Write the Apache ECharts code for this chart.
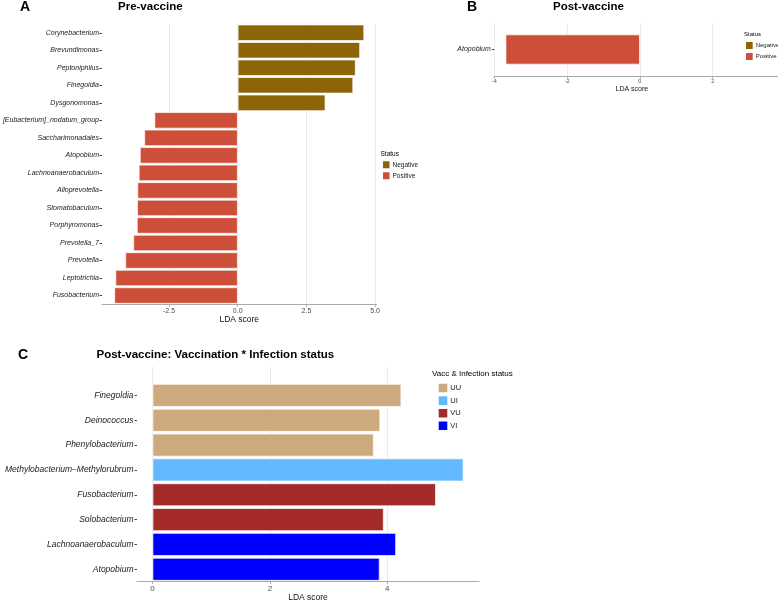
<!DOCTYPE html>
<html><head><meta charset="utf-8">
<script src="https://cdn.jsdelivr.net/npm/echarts@6/dist/echarts.min.js"></script>
<style>html,body{margin:0;padding:0;background:#fff}#c{width:778px;height:601px}</style>
</head><body><div id="c"></div>
<script>
const FONT = "'Liberation Sans', Arial, Helvetica, sans-serif";

// ---- Panel A: Pre-vaccine ----
const genusA = ['Corynebacterium','Brevundimonas','Peptoniphilus','Finegoldia','Dysgonomonas',
  '[Eubacterium]_nodatum_group','Saccharimonadales','Atopobium','Lachnoanaerobaculum','Alloprevotella',
  'Stomatobaculum','Porphyromonas','Prevotella_7','Prevotella','Leptotrichia','Fusobacterium'];
const ldaA = [4.60, 4.45, 4.29, 4.20, 3.19, -3.03, -3.40, -3.56, -3.60, -3.65, -3.66, -3.67, -3.80, -4.09, -4.45, -4.49];
const statusA = ['Negative','Negative','Negative','Negative','Negative',
  'Positive','Positive','Positive','Positive','Positive','Positive','Positive','Positive','Positive','Positive','Positive'];
const ticksA = [-2.5, 0, 2.5, 5.0];

// ---- Panel B: Post-vaccine ----
const genusB = ['Atopobium'];
const ldaB = [-3.69];
const statusB = ['Positive'];
const ticksB = [-4, -2, 0, 2, 4];

// ---- Panel C: Post-vaccine: Vaccination * Infection status ----
const genusC = ['Finegoldia','Deinococcus','Phenylobacterium','Methylobacterium–Methylorubrum',
  'Fusobacterium','Solobacterium','Lachnoanaerobaculum','Atopobium'];
const ldaC = [4.24, 3.88, 3.77, 5.30, 4.83, 3.94, 4.15, 3.87];
const groupC = ['UU','UU','UU','UI','VU','VU','VI','VI'];
const ticksC = [0, 2, 4];

const statusLevels = ['Negative','Positive'];
const statusColors = ['#8B6508','#CD4F39'];
const groupLevels = ['UU','UI','VU','VI'];
const groupColors = ['#CDAA7D','#63B8FF','#A52A2A','#0000FF'];

function splitBy(values, groups, level) {
  return values.map((v, i) => groups[i] === level ? v : '-');
}

function xAxisCfg(gridIndex, min, max, ticks, fmt, labelSize, labelMargin, nameSize, nameGap, namePad) {
  return {
    type: 'value', gridIndex, min, max,
    axisLine: { show: true, onZero: false, lineStyle: { color: '#ababab', width: 1.1 } },
    axisTick: { show: true, length: 2.5, customValues: ticks, lineStyle: { color: '#ababab' } },
    axisLabel: { customValues: ticks, formatter: fmt, fontSize: labelSize, color: '#4d4d4d', margin: labelMargin, fontFamily: FONT },
    splitLine: { show: true, lineStyle: { color: '#ebebeb', width: 1 } },
    name: 'LDA score', nameLocation: 'middle', nameGap,
    nameTextStyle: { fontSize: nameSize, color: '#111', fontFamily: FONT, padding: namePad || 0 }
  };
}
function yAxisCfg(gridIndex, cats, size, margin) {
  return {
    type: 'category', gridIndex, data: cats, inverse: true,
    axisLine: { show: false, onZero: false },
    axisTick: { show: true, length: 2.5, alignWithLabel: true, lineStyle: { color: '#444' } },
    axisLabel: { fontSize: size, fontStyle: 'italic', color: '#1a1a1a', margin, fontFamily: FONT },
    splitLine: { show: false }
  };
}
function barSeries(names, colors, values, groups, axisIdx, stack, extra) {
  return names.map((n, k) => Object.assign({
    type: 'bar', name: n, xAxisIndex: axisIdx, yAxisIndex: axisIdx, stack,
    data: splitBy(values, groups, n),
    itemStyle: { color: colors[k], borderColor: '#ffffff', borderWidth: 0.7 },
    emphasis: { disabled: true }, animation: false
  }, extra));
}
function titleCfg(text, left, top, size, weight) {
  return { text, left, top, padding: 0,
    textStyle: { fontSize: size, fontWeight: weight, color: '#000', fontFamily: FONT } };
}
function legendCfg(data, left, top, w, h, size) {
  return { data, left, top, orient: 'vertical', icon: 'rect', itemWidth: w, itemHeight: h, itemGap: 0,
    padding: 0, selectedMode: false,
    textStyle: { fontSize: size, color: '#1a1a1a', fontFamily: FONT, padding: [0, 0, 0, -3] } };
}
function gridCfg(o) { return Object.assign({ outerBoundsMode: 'none', containLabel: false }, o); }

const chart = echarts.init(document.getElementById('c'), null, { renderer: 'canvas' });
chart.setOption({
  backgroundColor: '#ffffff',
  animation: false,
  textStyle: { fontFamily: FONT },
  title: [
    titleCfg('A', 20, 0, 14, 'bold'),
    titleCfg('Pre-vaccine', 118, 0.5, 11.5, 'bold'),
    titleCfg('B', 467, 0, 14, 'bold'),
    titleCfg('Post-vaccine', 553, 0.5, 11.5, 'bold'),
    titleCfg('C', 18, 348.5, 14, 'bold'),
    titleCfg('Post-vaccine: Vaccination * Infection status', 96.5, 349, 11.5, 'bold'),
    titleCfg('Status', 380.5, 150.5, 6.5, 'normal'),
    titleCfg('Status', 744, 31, 6, 'normal'),
    titleCfg('Vacc & Infection status', 432, 370, 8, 'normal')
  ],
  legend: [
    legendCfg(statusLevels, 381, 159.3, 8.5, 9, 6.5),
    legendCfg(statusLevels, 744, 40, 8.7, 9, 6),
    legendCfg(groupLevels, 436.7, 381.7, 10.6, 10.6, 7.5)
  ],
  grid: [
    gridCfg({ left: 102, right: 778 - 376.5, top: 24, bottom: 601 - 304.3 }),
    gridCfg({ left: 494.3, right: 778 - 785.5, top: 23, bottom: 601 - 76 }),
    gridCfg({ left: 137, right: 778 - 479, top: 383, bottom: 601 - 581.7 }),
    gridCfg({ left: 137, right: 778 - 479, top: 366.7, height: 16.3 })
  ],
  xAxis: [
    xAxisCfg(0, -4.94, 5.05, ticksA, v => v.toFixed(1), 7, 3, 8.5, 10.5),
    xAxisCfg(1, -4, 4, ticksB, v => String(v), 5.5, 2.5, 7, 8.5, [0, 16, 0, 0]),
    xAxisCfg(2, -0.265, 5.565, ticksC, v => String(v), 8, 3, 8.5, 11),
    Object.assign(xAxisCfg(3, -0.265, 5.565, ticksC, v => String(v), 8, 3, 8.5, 11),
      { axisLine: { show: false }, axisTick: { show: false, customValues: ticksC },
        axisLabel: { show: false, customValues: ticksC }, name: '' })
  ],
  yAxis: [
    yAxisCfg(0, genusA, 7, 3),
    yAxisCfg(1, genusB, 7, 3.5),
    yAxisCfg(2, genusC, 8.5, 3.5),
    { type: 'category', gridIndex: 3, data: [''], show: false }
  ],
  series: [
    ...barSeries(statusLevels, statusColors, ldaA, statusA, 0, 'A', { barCategoryGap: '7%' }),
    ...barSeries(statusLevels, statusColors, ldaB, statusB, 1, 'B', { barWidth: 30 }),
    ...barSeries(groupLevels, groupColors, ldaC, groupC, 2, 'C', { barCategoryGap: '8%' })
  ]
});
</script>
</body></html>
